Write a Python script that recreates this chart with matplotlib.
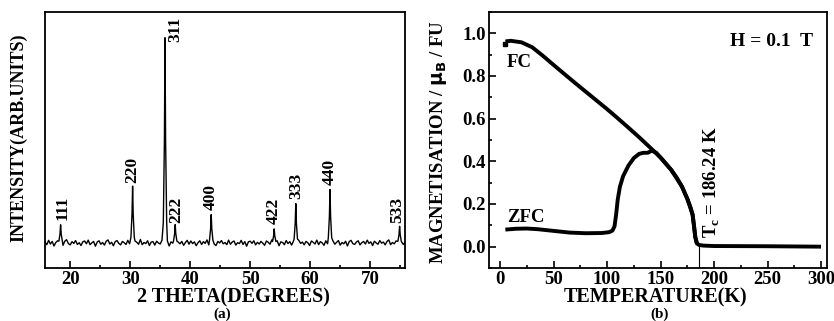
import numpy as np
import matplotlib
matplotlib.use('Agg')
import matplotlib.pyplot as plt
from matplotlib.ticker import MultipleLocator

plt.rcParams['font.family'] = ['Liberation Serif', 'DejaVu Serif']
plt.rcParams['font.weight'] = 'bold'
plt.rcParams['mathtext.fontset'] = 'dejavusans'

# ---- (a) XRD pattern ----
# baseline noise, one value every 0.3 deg starting at 15.8 deg
xrd_noise = [3, -8, 12, -5, 7, -14, 2, 10, -6, 4, -11, 8, 15, -3, -9, 6, -2, 11, -7, 1,
             -12, 5, 9, -4, 13, -8, 0, 7, -15, 4, 10, -6, 2, -10, 8, 14, -5, 3, -13, 6,
             11, -2, -9, 7, 1, -7, 12, -4, 5, -11, 9, 3, -6, 16, -8, 2, -3, 10, -12, 4,
             6, -10, 8, 0, -5, 13, -7, 3, 9, -14, 5, -1, 11, -8, 4, -4, 7, -11, 2, 12,
             -6, 9, -3, 5, -13, 1, 10, -7, 6, -2, 14, -9, 3, 8, -5, -12, 7, 0, 11, -4,
             2, -8, 13, -6, 4, 9, -10, 1, -3, 12, -7, 6, -15, 5, 8, -2, 10, -9, 3, -5,
             7, -1, -11, 9, 3, -6, 14, -4, 0, 10, -13, 5, 2, -8, 11, -3, 6, -10, 8, 1,
             -7, 12, -2, 4, -9, 7, 1, -12, 9, 3, -5, 13, -8, 6, 0, -11, 10, -4, 5, -1,
             9, -6, 3, 11, -10, 2, -4, 8, -14, 6, 12, -3, -7, 4, 10, -9, 1, 7, -5, 13,
             -2, 5, -12, 8, 0, -6, 11, -1, 4, -9, 7, 14, -8, 2, -4, 9, -11, 6, 3, -7, 4]
peak_pos = [18.4, 30.4, 35.8, 37.5, 43.5, 54.0, 57.6, 63.3, 74.9]
peak_int = [84, 263, 950, 85, 131, 65, 182, 247, 77]
peak_hkl = ['111', '220', '311', '222', '400', '422', '333', '440', '533']
label_x = [18.72, 30.28, 37.5, 37.6, 43.5, 54.0, 57.6, 63.3, 74.55]
label_y = [106, 276, 931, 92, 153, 88, 202, 268, 92]

# ---- (b) M(T) ----
fc_T = [5, 10, 20, 30, 40, 50, 60, 70, 80, 90, 100, 110, 120, 130, 140, 150, 160, 165,
        170, 175, 178, 180, 181.5, 182.5, 184, 186, 190, 200, 250, 300]
fc_M = [0.962, 0.965, 0.958, 0.935, 0.895, 0.852, 0.81, 0.768, 0.727, 0.686, 0.645,
        0.602, 0.558, 0.513, 0.466, 0.418, 0.36, 0.325, 0.282, 0.225, 0.185, 0.15,
        0.09, 0.045, 0.015, 0.008, 0.005, 0.003, 0.002, 0.0]
zfc_T = [5, 15, 25, 35, 50, 65, 80, 95, 102, 105, 107, 108.5, 110, 112, 115, 120, 125,
         130, 134, 138, 142, 146, 150, 160, 170, 175, 180, 182.5, 184]
zfc_M = [0.08, 0.084, 0.085, 0.082, 0.074, 0.066, 0.063, 0.064, 0.068, 0.075, 0.095,
         0.15, 0.22, 0.28, 0.33, 0.38, 0.415, 0.435, 0.44, 0.44, 0.45, 0.44, 0.418,
         0.36, 0.282, 0.225, 0.15, 0.045, 0.015]
Tc = 186.24

fig = plt.figure(figsize=(8.34, 3.21), dpi=100)
ax1 = fig.add_axes([45 / 834, 53 / 321, 360 / 834, 256 / 321])
ax2 = fig.add_axes([489 / 834, 53 / 321, 338 / 834, 256 / 321])

# build XRD trace: baseline points, peaks inserted
bx = 15.8 + 0.3 * np.arange(len(xrd_noise))
by = np.array(xrd_noise, dtype=float)
keep = np.ones(len(bx), dtype=bool)
px, py = [], []
for c, h in zip(peak_pos, peak_int):
    keep &= np.abs(bx - c) > 0.32
    px += [c - 0.28, c - 0.1, c, c + 0.1, c + 0.28]
    py += [0.1 * h, 0.5 * h, h, 0.5 * h, 0.1 * h]
xs = np.concatenate([bx[keep], px])
ys = np.concatenate([by[keep], py])
order = np.argsort(xs)
ax1.plot(xs[order], ys[order], color='black', lw=1.0)
for lab, lx, ly in zip(peak_hkl, label_x, label_y):
    ax1.text(lx, ly, lab, rotation=90, ha='center', va='bottom', fontsize=12.5)

ax1.set_xlim(15.8, 75.8)
ax1.set_ylim(-116, 1069)
ax1.set_yticks([])
ax1.xaxis.set_major_locator(MultipleLocator(10))
ax1.xaxis.set_minor_locator(MultipleLocator(5))

# M(T)
ax2.plot(fc_T, fc_M, color='black', lw=2.8, solid_capstyle='butt')
ax2.plot(zfc_T, zfc_M, color='black', lw=2.8, solid_capstyle='butt')
ax2.plot([5], [0.95], 's', color='black', ms=3)
ax2.plot([Tc, Tc], [-0.1, 0.005], color='black', lw=0.8)
ax2.text(6.5, 0.863, 'FC', ha='left', va='center', fontsize=13.5)
ax2.text(6.5, 0.135, 'ZFC', ha='left', va='center', fontsize=13.5)
ax2.text(215, 0.964, 'H = 0.1  T', ha='left', va='center', fontsize=14)
ax2.text(197.7, 0.04, r'T$_\mathregular{c}$ = 186.24 K', rotation=90,
         ha='center', va='bottom', fontsize=13.5)
ax2.set_xlim(-10.3, 305.6)
ax2.set_ylim(-0.1, 1.1)
ax2.xaxis.set_major_locator(MultipleLocator(50))
ax2.xaxis.set_minor_locator(MultipleLocator(25))
ax2.yaxis.set_minor_locator(MultipleLocator(0.1))
ax2.set_yticks([0.0, 0.2, 0.4, 0.6, 0.8, 1.0])
ax2.set_yticklabels(['0.0', '0.2', '0.4', '0.6', '0.8', '1.0'])

for ax in (ax1, ax2):
    for s in ax.spines.values():
        s.set_linewidth(1.3)
    ax.tick_params(which='both', direction='in', top=False, right=False, width=1.2)
    ax.tick_params(which='major', length=5, labelsize=13.5, pad=2.5)
    ax.tick_params(which='minor', length=2.5)
    for t in ax.get_xticklabels() + ax.get_yticklabels():
        t.set_fontweight('bold')

fig.text(233 / 834, 1 - 297 / 321, '2 THETA(DEGREES)', ha='center', va='center', fontsize=14.5)
fig.text(222 / 834, 1 - 314 / 321, '(a)', ha='center', va='center', fontsize=11)
fig.text(18.5 / 834, 1 - 138 / 321, 'INTENSITY(ARB.UNITS)', rotation=90,
         ha='center', va='center', fontsize=13)
fig.text(656 / 834, 1 - 297 / 321, 'TEMPERATURE(K)', ha='center', va='center', fontsize=14.5)
fig.text(660 / 834, 1 - 314 / 321, '(b)', ha='center', va='center', fontsize=11)
fig.text(438.5 / 834, 1 - 142 / 321, r'MAGNETISATION / $\mathbf{\mu_B}$ / FU', rotation=90,
         ha='center', va='center', fontsize=13.5)

fig.savefig('out.png', dpi=100)
